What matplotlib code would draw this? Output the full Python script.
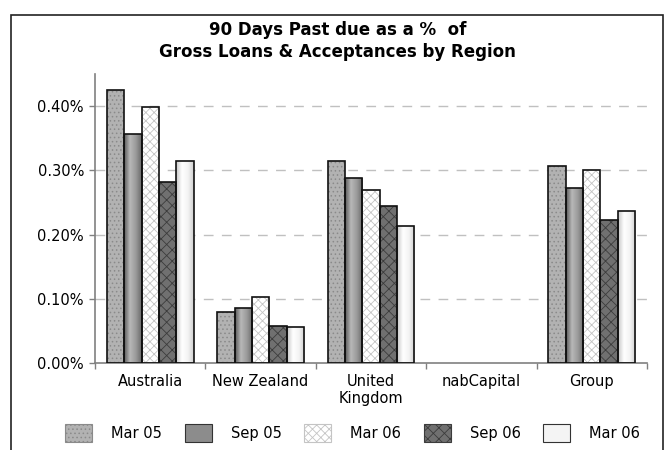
import numpy as np
import matplotlib.pyplot as plt
from matplotlib.patches import Rectangle, Patch
from matplotlib.colors import LinearSegmentedColormap

regions = ["Australia", "New Zealand", "United\nKingdom", "nabCapital", "Group"]
series = ["Mar 05", "Sep 05", "Mar 06", "Sep 06", "Mar 06"]
mar05 = [0.425, 0.079, 0.315, 0.0, 0.307]
sep05 = [0.357, 0.085, 0.288, 0.0, 0.272]
mar06 = [0.398, 0.102, 0.270, 0.0, 0.301]
sep06 = [0.282, 0.058, 0.245, 0.0, 0.222]
mar06b = [0.315, 0.056, 0.214, 0.0, 0.236]
yticks = [0.0, 0.1, 0.2, 0.3, 0.4]

values = [mar05, sep05, mar06, sep06, mar06b]

# fill style per series: (face, hatch, hatch colour, gradient stops or None)
styles = [
    ("#b2b2b2", "....", "#8a8a8a", None),
    ("#8c8c8c", None, None, ["#5a5a5a", "#b8b8b8", "#9a9a9a", "#6a6a6a"]),
    ("#ffffff", "xxxx", "#c4c4c4", None),
    ("#707070", "xxx", "#3c3c3c", None),
    ("#f4f4f4", None, None, ["#c8c8c8", "#ffffff", "#f4f4f4", "#cfcfcf"]),
]

plt.rcParams["font.family"] = "DejaVu Sans"
plt.rcParams["hatch.linewidth"] = 0.6

fig = plt.figure(figsize=(6.68, 4.5), dpi=100)
ax = fig.add_axes([95 / 668, 1 - 363 / 450, 552 / 668, 289 / 450])

x = np.arange(len(regions))
w = 0.157
offsets = (np.arange(5) - 2) * w

for vals, off, (face, hatch, hcol, grad) in zip(values, offsets, styles):
    if hatch:
        ax.bar(x + off, vals, w, color=face, hatch=hatch, edgecolor=hcol,
               linewidth=0, zorder=2)
    outline = ax.bar(x + off, vals, w, facecolor="none", edgecolor="#111111",
                     linewidth=1.2, zorder=3)
    for rect in outline:
        h = rect.get_height()
        if h <= 0:
            rect.set_visible(False)
            continue
        if grad:
            cmap = LinearSegmentedColormap.from_list("g", grad)
            x0 = rect.get_x()
            img = ax.imshow(np.linspace(0, 1, 64).reshape(1, -1), cmap=cmap,
                            extent=[x0, x0 + w, 0, h], aspect="auto",
                            zorder=2.5, interpolation="bilinear")
            img.set_clip_path(rect)

ax.set_xlim(-0.5, 4.5)
ax.set_ylim(0, 0.45)

ax.set_yticks(yticks)
ax.set_yticklabels([f"{v:.2f}%" for v in yticks], fontsize=10.5)
for v in yticks[1:]:
    ax.axhline(v, color="#c0c0c0", linestyle=(0, (7, 6)), linewidth=1, zorder=1)

ax.set_xticks(np.arange(-0.5, 5, 1))
ax.set_xticklabels([])
ax.set_xticks(x, minor=True)
ax.set_xticklabels(regions, minor=True, fontsize=10.5, linespacing=1.15)
ax.tick_params(axis="x", which="minor", length=0, pad=8)
ax.tick_params(axis="both", which="major", direction="out", length=4,
               color="#808080", width=1)
ax.tick_params(axis="y", pad=4)

for s in ["top", "right"]:
    ax.spines[s].set_visible(False)
for s in ["left", "bottom"]:
    ax.spines[s].set_color("#808080")
    ax.spines[s].set_linewidth(1.2)

fig.text(0.505, 1 - 30 / 450, "90 Days Past due as a %  of", ha="center",
         va="center", fontsize=12, fontweight="bold")
fig.text(0.505, 1 - 52 / 450, "Gross Loans & Acceptances by Region",
         ha="center", va="center", fontsize=12, fontweight="bold")

# outer chart frame, open at the bottom
fig.patches.append(Rectangle((11 / 668, -0.05), 652 / 668, 0.05 + 1 - 15 / 450,
                             transform=fig.transFigure, fill=False,
                             edgecolor="#222222", linewidth=1.2))

handles = []
for face, hatch, hcol, grad in styles:
    handles.append(Patch(facecolor=face, hatch=hatch,
                         edgecolor=hcol or "#333333", linewidth=0.8))
fig.legend(handles, series, loc="center", bbox_to_anchor=(0.528, 1 - 433 / 450),
           ncol=5, frameon=False, fontsize=10.5, handlelength=1.85,
           handleheight=1.5, columnspacing=1.55, handletextpad=1.3)

fig.savefig("out.png", dpi=100)
